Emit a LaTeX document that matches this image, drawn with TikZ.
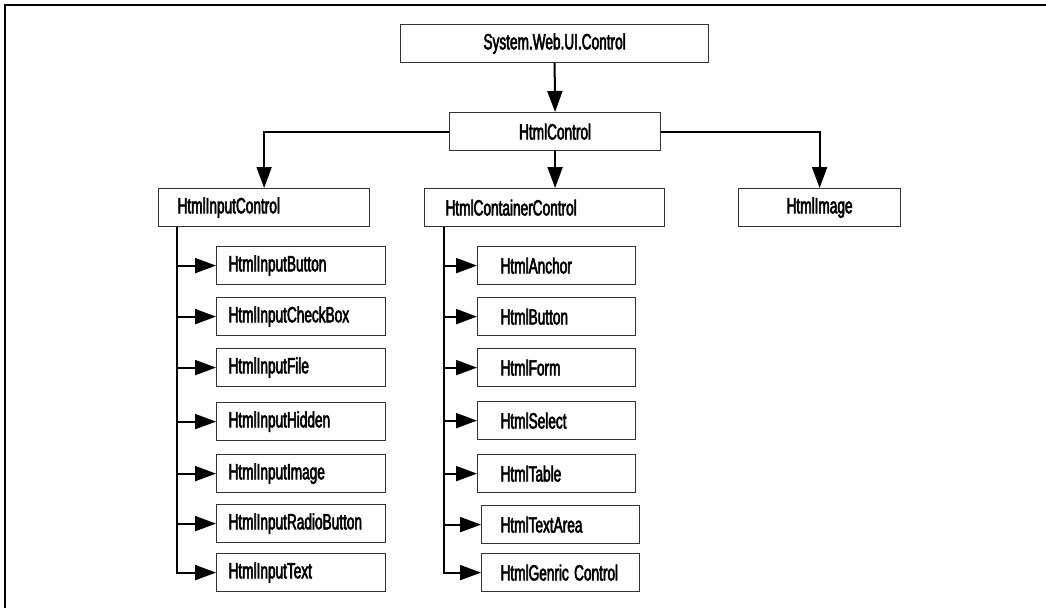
\documentclass[tikz,border=0pt]{standalone}
\usepackage{fontspec}
\setmainfont{Liberation Sans}[FakeStretch=0.62,FakeBold=2.5]
\usetikzlibrary{arrows.meta}
\begin{document}
\begin{tikzpicture}[x=1pt,y=-1pt,
  box/.style={draw=black!80,line width=1.2pt,inner ysep=0pt,minimum height=38pt,
    font=\fontsize{22}{24}\selectfont,anchor=north west},
  cbox/.style={box,inner xsep=0pt,align=center},
  lbox/.style={box,align=left},
  conn/.style={line width=2pt,-{Triangle[length=21pt,width=15pt]}},
  frame/.style={line width=2pt}]
\useasboundingbox (0,0) rectangle (1046,608);
\draw[frame] (1046,5) -- (5,5) -- (5,608);

\node[cbox,minimum width=308pt] (sys) at (400,24) {System.Web.UI.Control};
\node[cbox,minimum width=211pt] (ctl) at (449,112) {HtmlControl};
\node[lbox,inner xsep=19pt,text width=173pt] (inp) at (158,188) {\mbox{HtmlInputControl}};
\node[lbox,inner xsep=21pt,text width=198pt] (cont) at (424,188) {\mbox{HtmlContainerControl}};
\node[cbox,minimum width=162pt] (img) at (738,188) {HtmlImage};

\draw[conn] (sys.south) -- (ctl.north);
\draw[conn] (ctl.south) -- (ctl.south |- cont.north);
\draw[conn] (ctl.west) -| (inp.north);
\draw[conn] (ctl.east) -| (img.north);

% left column
\coordinate (lt) at (177,227);
\foreach \n/\y/\t in {l1/246/HtmlInputButton,l2/297/HtmlInputCheckBox,l3/348/HtmlInputFile,
  l4/402/HtmlInputHidden,l5/454/HtmlInputImage,l6/504/HtmlInputRadioButton,l7/553/HtmlInputText}{
  \node[lbox,inner xsep=12pt,text width=145pt] (\n) at (216,\y) {\mbox{\t}};
  \draw[conn] (lt) |- (\n.west);
}

% middle column
\coordinate (mt) at (444,227);
\foreach \n/\y/\t in {m1/246/HtmlAnchor,m2/297/HtmlButton,m3/348/HtmlForm,
  m4/401/HtmlSelect,m5/454/HtmlTable}{
  \node[lbox,inner xsep=23pt,text width=112pt] (\n) at (477,\y) {\mbox{\t}};
  \draw[conn] (mt) |- (\n.west);
}
\foreach \n/\y/\t in {m6/505/HtmlTextArea,m7/553/HtmlGenric\kern-2pt\ Control}{
  \node[lbox,inner xsep=19pt,text width=120pt] (\n) at (481,\y) {\mbox{\t}};
  \draw[conn] (mt) |- (\n.west);
}
\end{tikzpicture}
\end{document}
